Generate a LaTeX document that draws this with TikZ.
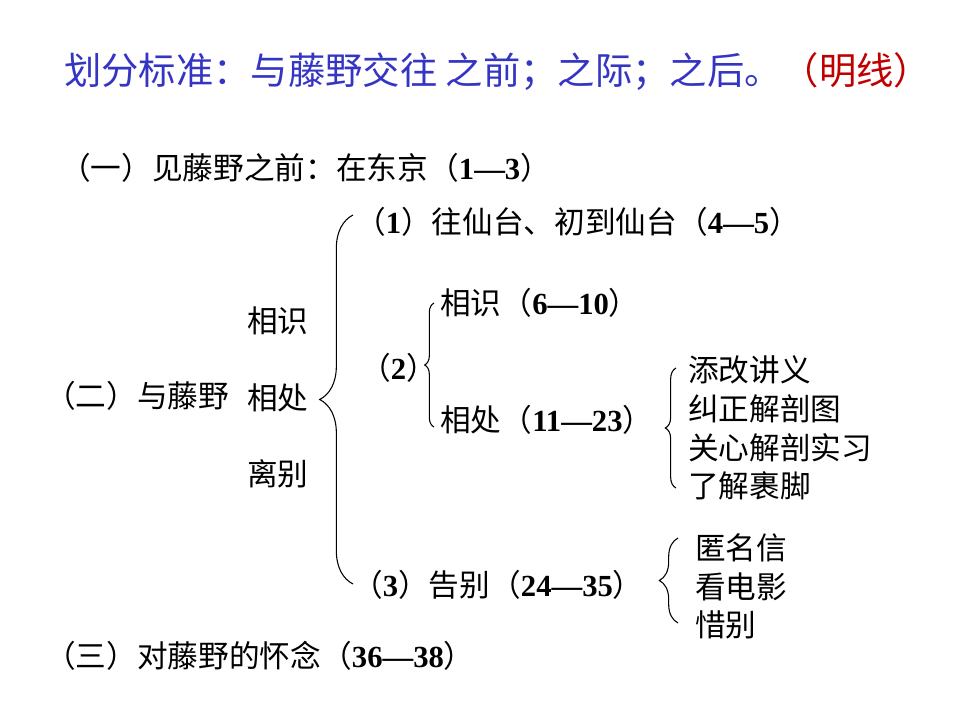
\documentclass[tikz,border=0pt]{standalone}
\usepackage{fontspec}
\setmainfont{Noto Sans CJK SC}
\newfontfamily\tnr{Liberation Serif}
\usepackage{xcolor}
\usepackage{tikz}
\usetikzlibrary{decorations.pathreplacing}
\definecolor{titleblue}{HTML}{3535C4}
\definecolor{titlered}{HTML}{C00000}
\newcommand\bodyfont{\fontsize{23}{28}\selectfont}
\newcommand\titlefont{\fontsize{28}{32}\selectfont}
\newcommand\bnum[1]{{\tnr\bfseries #1}}
\tikzset{
  txt/.style={anchor=west, inner sep=0pt, font=\bodyfont},
  brc/.style={decorate, decoration={brace, amplitude=#1}, line width=0.8pt}
}

\begin{document}
\begin{tikzpicture}[x=0.75pt, y=-0.75pt]
  \useasboundingbox (0,0) rectangle (960,720);

  % Title
  \node[txt, font=\titlefont, text=titleblue] (title) at (64,72)
    {划分标准：与藤野交往 之前；之际；之后。\textcolor{titlered}{（明线）}};

  % Part one
  \node[txt] (sec1) at (60,168) {（一）见藤野之前：在东京（\bnum{1—3}）};

  % Part two
  \node[txt] (sec2) at (45,396) {（二）与藤野};
  \node[txt] (meet) at (247,321) {相识};
  \node[txt] (stay) at (247,398) {相处};
  \node[txt] (part) at (247,474) {离别};

  \node[txt] (p1) at (355,222) {（\bnum{1}）往仙台、初到仙台（\bnum{4—5}）};
  \node[txt] (p2) at (360,368) {（\bnum{2}）};
  \node[txt] (p2a) at (440,303) {相识（\bnum{6—10}）};
  \node[txt] (p2b) at (440,420) {相处（\bnum{11—23}）};
  \node[txt] (p3) at (352,585) {（\bnum{3}）告别（\bnum{24—35}）};

  % Details of 相处
  \foreach \t [count=\i] in {添改讲义,纠正解剖图,关心解剖实习,了解裹脚}
    \node[txt] (care\i) at (688,{370+38.7*(\i-1)}) {\t};

  % Details of 告别
  \foreach \t [count=\i] in {匿名信,看电影,惜别}
    \node[txt] (bye\i) at (695,{548+38.5*(\i-1)}) {\t};

  % Part three
  \node[txt] (sec3) at (45,656) {（三）对藤野的怀念（\bnum{36—38}）};

  % Braces
  \coordinate (b1t) at (353,215);
  \coordinate (b1b) at (353,584);
  \coordinate (b2t) at (434,303);
  \coordinate (b2b) at (434,427);
  \coordinate (b3t) at (676,368);
  \coordinate (b3b) at (676,488);
  \coordinate (b4t) at (678,538);
  \coordinate (b4b) at (678,623);
  \draw[brc=25pt] (b1b) -- (b1t);
  \draw[brc=7pt] (b2b) -- (b2t);
  \draw[brc=8pt] (b3b) -- (b3t);
  \draw[brc=14pt] (b4b) -- (b4t);
\end{tikzpicture}
\end{document}
